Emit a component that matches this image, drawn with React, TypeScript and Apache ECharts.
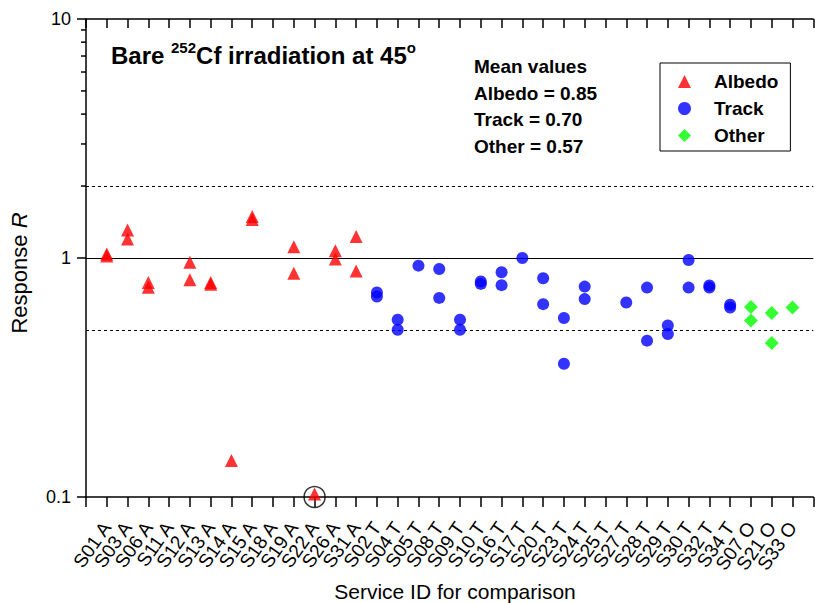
import React, { useEffect, useRef } from "react";
import * as echarts from "echarts";

const FONT = '"Liberation Sans", Arial, Helvetica, sans-serif';

const categories = [
  "S01 A", "S03 A", "S06 A", "S11 A", "S12 A", "S13 A", "S14 A", "S15 A", "S18 A", "S19 A",
  "S22 A", "S26 A", "S31 A", "S02 T", "S04 T", "S05 T", "S08 T", "S09 T", "S10 T", "S16 T",
  "S17 T", "S20 T", "S23 T", "S24 T", "S25 T", "S27 T", "S28 T", "S29 T", "S30 T", "S32 T",
  "S34 T", "S07 O", "S21 O", "S33 O",
];

const albedoIds = [
  "S01 A", "S01 A", "S03 A", "S03 A", "S06 A", "S06 A", "S12 A", "S12 A", "S13 A", "S13 A",
  "S14 A", "S15 A", "S15 A", "S19 A", "S19 A", "S22 A", "S26 A", "S26 A", "S31 A", "S31 A",
];
const albedoValues = [
  1.04, 1.02, 1.31, 1.2, 0.79, 0.755, 0.96, 0.81, 0.79, 0.777,
  0.142, 1.49, 1.45, 1.115, 0.863, 0.103, 1.073, 0.99, 1.23, 0.883,
];

const trackIds = [
  "S02 T", "S02 T", "S04 T", "S04 T", "S05 T", "S08 T", "S08 T", "S09 T", "S09 T", "S10 T",
  "S10 T", "S16 T", "S16 T", "S17 T", "S20 T", "S20 T", "S23 T", "S23 T", "S24 T", "S24 T",
  "S27 T", "S28 T", "S28 T", "S29 T", "S29 T", "S30 T", "S30 T", "S32 T", "S32 T", "S34 T", "S34 T",
];
const trackValues = [
  0.717, 0.69, 0.552, 0.501, 0.929, 0.9, 0.681, 0.552, 0.501, 0.797,
  0.779, 0.872, 0.77, 1.0, 0.823, 0.641, 0.561, 0.361, 0.759, 0.673,
  0.651, 0.752, 0.451, 0.522, 0.481, 0.981, 0.752, 0.767, 0.752, 0.637, 0.621,
];

const otherIds = ["S07 O", "S07 O", "S21 O", "S21 O", "S33 O"];
const otherValues = [0.623, 0.548, 0.588, 0.441, 0.621];

const highlightId = "S22 A";
const highlightValue = 0.1;

const referenceLines = [
  { value: 1, dashed: false },
  { value: 2, dashed: true },
  { value: 0.5, dashed: true },
];

const minorTickValues = [2, 3, 4, 5, 6, 7, 8, 9, 20, 30, 40, 50, 60, 70, 80, 90];

const meanLines = ["Mean values", "Albedo = 0.85", "Track = 0.70", "Other = 0.57"];

const toPoints = (ids: string[], vals: number[]) =>
  ids.map((id, i) => [categories.indexOf(id), vals[i]]);

export default function App() {
  const ref = useRef<HTMLDivElement>(null);
  useEffect(() => {
    if (!ref.current) return;
    const chart = echarts.init(ref.current, null, { renderer: "svg" });
    const axisLineStyle = { color: "#000", width: 1.5 };
    const option: any = {
      animation: false,
      backgroundColor: "#fff",
      grid: { left: 86, top: 19, width: 738, height: 478, containLabel: false },
      xAxis: [
        {
          type: "value",
          position: "bottom",
          min: -1,
          max: 34,
          interval: 1,
          axisLine: { show: true, onZero: false, lineStyle: axisLineStyle },
          axisTick: { show: true, inside: false, length: 10, lineStyle: axisLineStyle },
          splitLine: { show: false },
          axisLabel: {
            rotate: 55,
            margin: 27,
            fontSize: 19,
            color: "#000",
            fontFamily: FONT,
            showMinLabel: true,
            showMaxLabel: true,
            formatter: (v: number) => categories[Math.round(v)] ?? "",
          },
        },
        {
          type: "value",
          position: "top",
          min: -1,
          max: 34,
          interval: 1,
          axisLine: { show: true, onZero: false, lineStyle: axisLineStyle },
          axisTick: { show: true, inside: true, length: 9, lineStyle: axisLineStyle },
          splitLine: { show: false },
          axisLabel: { show: false },
        },
      ],
      yAxis: {
        type: "log",
        logBase: 10,
        min: 0.1,
        max: 10,
        axisLine: { show: true, onZero: false, lineStyle: axisLineStyle },
        axisTick: { show: true, length: 9, lineStyle: axisLineStyle },
        splitLine: { show: false },
        minorTick: { show: false },
        axisLabel: {
          fontSize: 18,
          color: "#000",
          fontFamily: FONT,
          margin: 15,
          formatter: (v: number) => String(Number(v.toPrecision(3))),
        },
      },
      legend: {
        orient: "vertical",
        left: 660,
        top: 63,
        data: ["Albedo", "Track", "Other"],
        borderColor: "#000",
        borderWidth: 1,
        padding: [9, 12, 6, 18],
        itemGap: 8,
        itemWidth: 13,
        itemHeight: 13,
        textStyle: {
          fontSize: 19,
          fontWeight: "bold",
          color: "#000",
          fontFamily: FONT,
          padding: [0, 0, 0, 18],
        },
      },
      graphic: [
        {
          type: "text",
          left: 111,
          top: 40,
          style: {
            text: "{b|Bare }{s|252}{b|Cf irradiation at 45}{s|o}",
            fill: "#000",
            font: `bold 24px ${FONT}`,
            rich: {
              b: { fontSize: 24, fontWeight: "bold", fontFamily: FONT, lineHeight: 31, fill: "#000" },
              s: { fontSize: 15, fontWeight: "bold", fontFamily: FONT, lineHeight: 15, verticalAlign: "top", fill: "#000" },
            },
          },
        },
        {
          type: "text",
          left: 474,
          top: 53,
          style: {
            text: meanLines.join("\n"),
            fill: "#000",
            font: `bold 19px ${FONT}`,
            lineHeight: 26.7,
          },
        },
        {
          type: "text",
          x: 19,
          y: 273,
          rotation: Math.PI / 2,
          style: {
            text: "{a|Response }{i|R}",
            align: "center",
            verticalAlign: "middle",
            fill: "#000",
            font: `22px ${FONT}`,
            rich: {
              a: { fontSize: 22, fontFamily: FONT, fill: "#000" },
              i: { fontSize: 22, fontStyle: "italic", fontFamily: FONT, fill: "#000" },
            },
          },
        },
        {
          type: "text",
          x: 455,
          y: 591,
          style: {
            text: "Service ID for comparison",
            align: "center",
            verticalAlign: "middle",
            fill: "#000",
            font: `21px ${FONT}`,
          },
        },
      ],
      series: [
        {
          name: "Albedo",
          type: "scatter",
          symbol: "triangle",
          symbolSize: 13,
          itemStyle: { color: "#ff0000" },
          data: toPoints(albedoIds, albedoValues),
          z: 5,
          clip: false,
          markLine: {
            silent: true,
            symbol: "none",
            label: { show: false },
            data: referenceLines.map((r) => ({
              yAxis: r.value,
              lineStyle: { color: "#000", width: 1, type: r.dashed ? [3, 3] : "solid" },
            })),
          },
        },
        {
          name: "Track",
          type: "scatter",
          symbol: "circle",
          symbolSize: 12,
          itemStyle: { color: "#0000ff" },
          data: toPoints(trackIds, trackValues),
          z: 5,
        },
        {
          name: "Other",
          type: "scatter",
          symbol: "diamond",
          symbolSize: 14,
          itemStyle: { color: "#00ff00" },
          data: toPoints(otherIds, otherValues),
          z: 5,
        },
        {
          name: "highlight",
          type: "scatter",
          symbol: "circle",
          symbolSize: 21,
          clip: false,
          itemStyle: { color: "rgba(0,0,0,0)", borderColor: "#000", borderWidth: 1.5 },
          data: [[categories.indexOf(highlightId), highlightValue]],
          z: 4,
        },
        {
          name: "minorTicks",
          type: "custom",
          clip: false,
          data: minorTickValues.map((v) => [-1, v]),
          renderItem: (_p: any, api: any) => {
            const pt = api.coord([api.value(0), api.value(1)]);
            return {
              type: "line",
              shape: { x1: pt[0] - 5, y1: pt[1], x2: pt[0], y2: pt[1] },
              style: { stroke: "#000", lineWidth: 1.5 },
            };
          },
          z: 3,
        },
      ],
    };
    chart.setOption(option);
    return () => chart.dispose();
  }, []);
  return (
    <div
      ref={ref}
      style={{ position: "absolute", left: 0, top: 0, width: 815, height: 603 }}
    />
  );
}
